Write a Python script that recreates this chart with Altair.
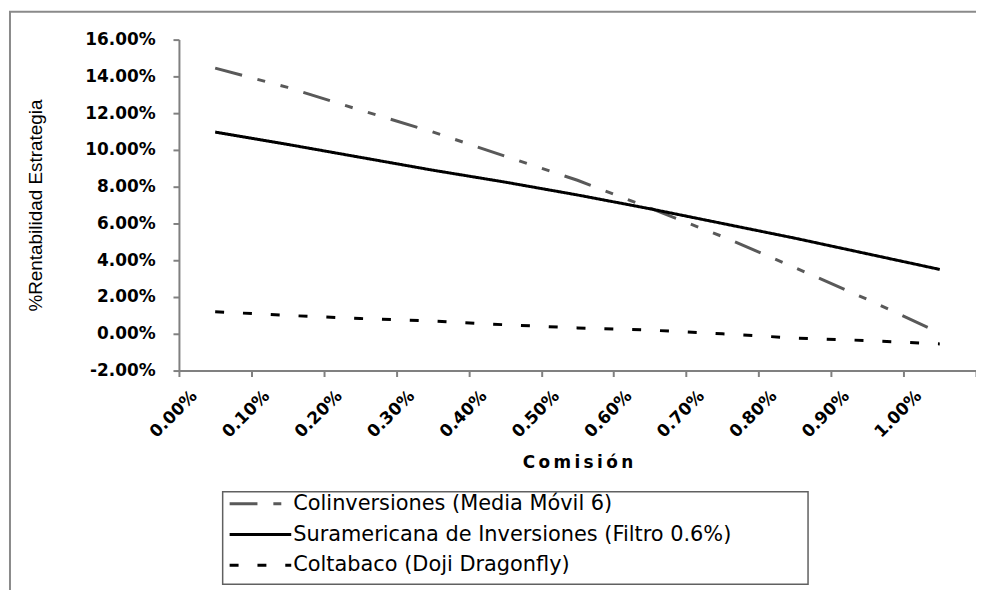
import altair as alt
import pandas as pd

comision = ["0.00%", "0.10%", "0.20%", "0.30%", "0.40%", "0.50%",
            "0.60%", "0.70%", "0.80%", "0.90%", "1.00%"]
series_names = ["Colinversiones (Media Móvil 6)",
                "Suramericana de Inversiones (Filtro 0.6%)",
                "Coltabaco (Doji Dragonfly)"]
colinversiones = [0.1445, 0.1340, 0.1217, 0.1098, 0.0966, 0.0835,
                  0.0684, 0.0529, 0.0360, 0.0187, 0.0005]
suramericana = [0.1097, 0.1030, 0.0960, 0.0890, 0.0825, 0.0755,
                0.0680, 0.0600, 0.0520, 0.0435, 0.0350]
coltabaco = [0.0120, 0.0100, 0.0083, 0.0070, 0.0049, 0.0032,
             0.0020, 0.0000, -0.0023, -0.0037, -0.0055]

rows = []
for name, vals in zip(series_names, [colinversiones, suramericana, coltabaco]):
    for c, v in zip(comision, vals):
        rows.append({"Comisión": c, "valor": v, "serie": name})
df = pd.DataFrame(rows)
legend_df = pd.DataFrame({"serie": series_names})

color_enc = alt.Color("serie:N", sort=series_names,
                      scale=alt.Scale(domain=series_names,
                                      range=["#595959", "#000000", "#000000"]),
                      legend=None)
dash_enc = alt.StrokeDash("serie:N", sort=series_names,
                          scale=alt.Scale(domain=series_names,
                                          range=[[28, 16, 8, 16, 8, 16], [1, 0], [9, 19]]),
                          legend=None)

lines = alt.Chart(df).mark_line(strokeWidth=3).encode(
    x=alt.X("Comisión:N", sort=comision, bandPosition=0.5,
            scale=alt.Scale(type="band", paddingInner=0, paddingOuter=0),
            axis=alt.Axis(title="C\u2009o\u2009m\u2009i\u2009s\u2009i\u2009ó\u2009n",
                          tickBand="extent", labelAngle=315,
                          labelAlign="right", labelBaseline="top",
                          labelOffset=-27, labelPadding=11,
                          labelFont="DejaVu Sans", labelFontWeight="bold",
                          labelFontSize=17, labelColor="#000000",
                          titleFont="DejaVu Sans", titleFontWeight="bold",
                          titleFontSize=17, titleColor="#000000",
                          titleY=93, titleBaseline="middle",
                          domainColor="#808080", domainWidth=2,
                          tickColor="#808080", tickWidth=2, tickSize=6)),
    y=alt.Y("valor:Q",
            scale=alt.Scale(domain=[-0.02, 0.16], nice=False, zero=False),
            axis=alt.Axis(title="%Rentabilidad Estrategia",
                          values=[-0.02, 0, 0.02, 0.04, 0.06, 0.08, 0.10, 0.12, 0.14, 0.16],
                          labelExpr="replace(format(datum.value, '.2%'), '\u2212', '-')",
                          labelFont="DejaVu Sans", labelFontWeight="bold",
                          labelFontSize=17, labelColor="#000000", labelPadding=18,
                          titleFont="Liberation Sans", titleFontWeight="normal",
                          titleFontSize=19, titleColor="#000000", titleX=-134,
                          domainColor="#808080", domainWidth=2,
                          tickColor="#808080", tickWidth=2, tickSize=6,
                          grid=False)),
    color=color_enc,
    strokeDash=dash_enc,
)

frame_df = pd.DataFrame({"k": [0]})
left_border = alt.Chart(frame_df).mark_rule(color="#8a8a8a", strokeWidth=2).encode(
    x=alt.value(-170), y=alt.value(-28), y2=alt.value(560))
top_border = alt.Chart(frame_df).mark_rule(color="#8a8a8a", strokeWidth=2).encode(
    x=alt.value(-171), x2=alt.value(820), y=alt.value(-28))

# legend (drawn as its own small layers)
legend_box = alt.Chart(frame_df).mark_rect(
    fill="white", stroke="#606060", strokeWidth=1.5).encode(
    x=alt.value(44), x2=alt.value(633), y=alt.value(455), y2=alt.value(548))
leg_y = alt.Y("serie:N", sort=series_names,
              scale=alt.Scale(type="point", domain=series_names,
                              range=[467, 529], padding=0),
              axis=None)
legend_sym = alt.Chart(legend_df).mark_rule(strokeWidth=3).encode(
    x=alt.value(51), x2=alt.value(113), y=leg_y,
    color=color_enc, strokeDash=dash_enc)
legend_txt = alt.Chart(legend_df).mark_text(
    align="left", baseline="middle", font="DejaVu Sans", fontSize=21,
    color="#000000").encode(
    x=alt.value(115), y=leg_y, text="serie:N")

chart = alt.layer(left_border, top_border, lines, legend_box, legend_sym, legend_txt
).resolve_scale(y="independent").properties(
    width=802, height=333,
    autosize=alt.AutoSizeParams(type="none"),
    padding={"left": 172, "top": 30, "right": 0, "bottom": 219},
).configure_view(stroke=None)

chart.save("out.html", embed_options={"renderer": "svg", "actions": False})
